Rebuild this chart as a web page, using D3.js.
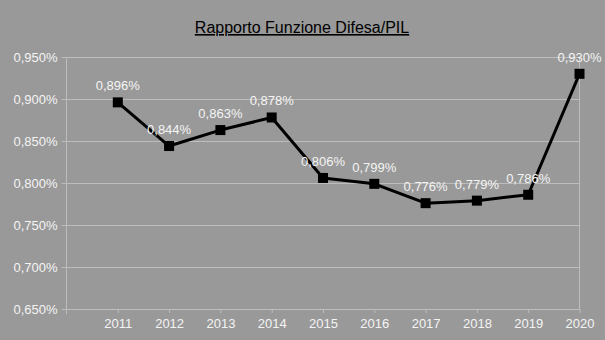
<!DOCTYPE html>
<html>
<head>
<meta charset="utf-8">
<script src="https://cdn.jsdelivr.net/npm/d3@7"></script>
<style>
  html, body { margin: 0; padding: 0; background: #999999; }
  svg { display: block; }
</style>
</head>
<body>
<svg id="chart" width="605" height="340"></svg>
<script>
// Rapporto tra la Funzione Difesa e il PIL, per anno
const years = [2011, 2012, 2013, 2014, 2015, 2016, 2017, 2018, 2019, 2020];
const ratios = [0.896, 0.844, 0.863, 0.878, 0.806, 0.799, 0.776, 0.779, 0.786, 0.930];
const yTicks = [0.65, 0.70, 0.75, 0.80, 0.85, 0.90, 0.95];
const title = "Rapporto Funzione Difesa/PIL";

const W = 605, H = 340;
const margin = { left: 66.5, right: 25.5, top: 57, bottom: 31 };
const svg = d3.select("#chart");
const font = "'Liberation Sans', Arial, sans-serif";
const fmt = v => d3.format(".3f")(v).replace(".", ",") + "%";

svg.append("rect").attr("width", W).attr("height", H).attr("fill", "#999999");

const x = d3.scaleLinear().domain([2010, 2020]).range([margin.left, W - margin.right]);
const y = d3.scaleLinear().domain([0.65, 0.95]).range([H - margin.bottom, margin.top]);

const grid = "#bdbdbd";

// horizontal gridlines and y tick labels
const yAxis = d3.axisLeft(y).tickValues(yTicks).tickSize(5).tickFormat(fmt);
const gy = svg.append("g").attr("transform", `translate(${margin.left},0)`).call(yAxis);
gy.select(".domain").remove();
gy.selectAll(".tick line").attr("stroke", grid);
gy.selectAll(".tick").append("line")
  .attr("x1", 0).attr("x2", x(2020) - margin.left)
  .attr("stroke", grid);
gy.selectAll(".tick text")
  .attr("fill", "#f4f4f4").attr("font-family", font).attr("font-size", 13)
  .attr("x", -9).attr("dy", "0.35em");

// vertical axis lines on both sides
svg.append("line").attr("x1", margin.left).attr("x2", margin.left)
  .attr("y1", y(0.95)).attr("y2", y(0.65) + 5).attr("stroke", grid);
svg.append("line").attr("x1", x(2020)).attr("x2", x(2020))
  .attr("y1", y(0.95)).attr("y2", y(0.65)).attr("stroke", grid);

// x axis ticks and year labels
const xAxis = d3.axisBottom(x).tickValues(years).tickSize(4).tickFormat(d3.format("d"));
const gx = svg.append("g").attr("transform", `translate(0,${y(0.65)})`).call(xAxis);
gx.select(".domain").remove();
gx.selectAll(".tick line").attr("stroke", grid);
gx.selectAll(".tick text")
  .attr("fill", "#f4f4f4").attr("font-family", font).attr("font-size", 13)
  .attr("y", 10);

// series line
svg.append("path")
  .datum(years.map((yr, i) => [yr, ratios[i]]))
  .attr("fill", "none").attr("stroke", "#000").attr("stroke-width", 3)
  .attr("stroke-linejoin", "round")
  .attr("d", d3.line().x(d => x(d[0])).y(d => y(d[1])));

// square markers
const m = 10;
svg.append("g").selectAll("rect").data(years).join("rect")
  .attr("x", d => x(d) - m / 2)
  .attr("y", (d, i) => y(ratios[i]) - m / 2)
  .attr("width", m).attr("height", m).attr("fill", "#000");

// value labels
svg.append("g").selectAll("text").data(years).join("text")
  .attr("x", d => x(d))
  .attr("y", (d, i) => y(ratios[i]) - 12)
  .attr("text-anchor", "middle")
  .attr("fill", "#f4f4f4").attr("font-family", font).attr("font-size", 13)
  .text((d, i) => fmt(ratios[i]));

// title
const t = svg.append("text")
  .attr("x", 302).attr("y", 33)
  .attr("text-anchor", "middle")
  .attr("fill", "#000").attr("font-family", font).attr("font-size", 16)
  .attr("text-decoration", "underline")
  .text(title);
</script>
</body>
</html>
